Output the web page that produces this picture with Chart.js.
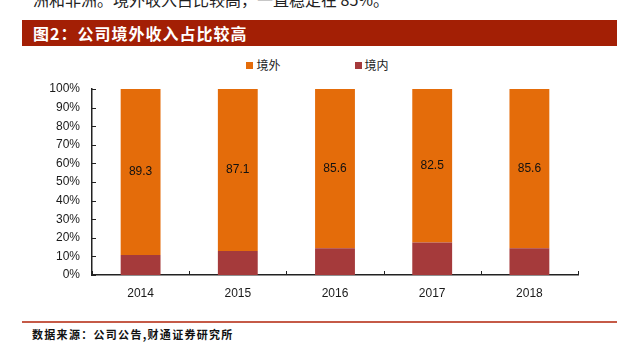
<!DOCTYPE html>
<html>
<head>
<meta charset="utf-8">
<script src="https://cdn.jsdelivr.net/npm/chart.js@4.4.1/dist/chart.umd.min.js"></script>
<style>
  body { margin: 0; width: 635px; height: 348px; background: #fff; position: relative; overflow: hidden; font-family: "Noto Sans CJK SC", sans-serif; }
  .lead { position: absolute; left: 33px; top: -9px; font-size: 16px; line-height: 16px; color: #222; white-space: nowrap; }
  .banner { position: absolute; left: 22px; top: 20px; width: 595px; height: 26px; background: #A31F05; }
  .banner span { position: absolute; left: 11px; top: 0; color: #fff; font-weight: 700; font-size: 16px; line-height: 26px; letter-spacing: 1px; }
  #legend { position: absolute; left: 0; top: 58px; width: 635px; display: flex; justify-content: center; gap: 74px; font-size: 12px; line-height: 14px; color: #222; }
  #legend .item { display: flex; align-items: center; }
  #legend i { display: inline-block; width: 7px; height: 7px; margin-right: 3px; }
  .chart-box { position: absolute; left: 0; top: 48px; width: 635px; height: 257px; }
  .rule { position: absolute; left: 22px; top: 321px; width: 595px; height: 2px; background: #C55A47; }
  .source { position: absolute; left: 32px; top: 326px; font-size: 11px; line-height: 16px; font-weight: 700; letter-spacing: 1.3px; color: #111; }
</style>
</head>
<body>
<div class="lead">洲和非洲。境外收入占比较高，一直稳定在 85%。</div>
<div class="banner"><span>图2：公司境外收入占比较高</span></div>
<div id="legend"></div>
<div class="chart-box"><canvas id="revenueChart"></canvas></div>
<div class="rule"></div>
<div class="source">数据来源：公司公告,财通证券研究所</div>

<script>
// revenue share by region, %
const years = ['2014', '2015', '2016', '2017', '2018'];
const overseas = [89.3, 87.1, 85.6, 82.5, 85.6];
const domestic = [10.7, 12.9, 14.4, 17.5, 14.4];

const ORANGE = '#E46C0A';
const DARK_RED = '#A53A3B';
const numFont = '"Liberation Sans Narrow", "Liberation Sans", Arial, sans-serif';

// legend: 境外 first, then 境内
const legendItems = [
    { label: '境外', color: ORANGE },
    { label: '境内', color: DARK_RED }
];
const legendEl = document.getElementById('legend');
legendItems.forEach(it => {
    const div = document.createElement('div');
    div.className = 'item';
    div.innerHTML = '<i style="background:' + it.color + '"></i>' + it.label;
    legendEl.appendChild(div);
});

// small inward tick marks on both axes
const axisTicks = {
    id: 'axisTicks',
    afterDraw(chart) {
        const { ctx, scales: { x, y } } = chart;
        ctx.save();
        ctx.strokeStyle = '#222';
        ctx.lineWidth = 1;
        ctx.beginPath();
        y.ticks.forEach(t => {
            const py = Math.round(y.getPixelForValue(t.value)) + 0.5;
            ctx.moveTo(x.left, py);
            ctx.lineTo(x.left + 4, py);
        });
        const step = x.width / years.length;
        for (let i = 0; i <= years.length; i++) {
            const px = Math.round(x.left + i * step) + 0.5;
            ctx.moveTo(px, y.bottom);
            ctx.lineTo(px, y.bottom - 4);
        }
        ctx.stroke();
        ctx.restore();
    }
};

// value labels in the middle of the overseas bars
const barValues = {
    id: 'barValues',
    afterDatasetsDraw(chart) {
        const ctx = chart.ctx;
        const meta = chart.getDatasetMeta(1);
        ctx.save();
        ctx.fillStyle = '#111';
        ctx.font = '12px ' + numFont;
        ctx.textAlign = 'center';
        ctx.textBaseline = 'middle';
        meta.data.forEach((bar, i) => {
            ctx.fillText(overseas[i].toFixed(1), bar.x, (bar.y + bar.base) / 2);
        });
        ctx.restore();
    }
};

new Chart(document.getElementById('revenueChart'), {
    type: 'bar',
    data: {
        labels: years,
        datasets: [
            { label: '境内', data: domestic, backgroundColor: DARK_RED, barPercentage: 0.41, categoryPercentage: 1.0 },
            { label: '境外', data: overseas, backgroundColor: ORANGE, barPercentage: 0.41, categoryPercentage: 1.0 }
        ]
    },
    options: {
        responsive: true,
        maintainAspectRatio: false,
        animation: false,
        layout: { padding: { top: 41, right: 57, left: 0, bottom: 0 } },
        plugins: {
            legend: { display: false },
            tooltip: { enabled: false }
        },
        scales: {
            x: {
                stacked: true,
                grid: { display: false, drawTicks: false },
                border: { display: true, color: '#222', width: 1.5 },
                ticks: { padding: 11, color: '#1a1a1a', font: { family: numFont, size: 12 } },
                afterFit(s) { s.height = 30; }
            },
            y: {
                stacked: true,
                min: 0,
                max: 100,
                grid: { display: false, drawTicks: false },
                border: { display: true, color: '#222', width: 1.5 },
                ticks: {
                    stepSize: 10,
                    padding: 12,
                    color: '#1a1a1a',
                    font: { family: numFont, size: 12 },
                    callback: v => v + '%'
                },
                afterFit(s) { s.width = 92; }
            }
        }
    },
    plugins: [axisTicks, barValues]
});
</script>
</body>
</html>
